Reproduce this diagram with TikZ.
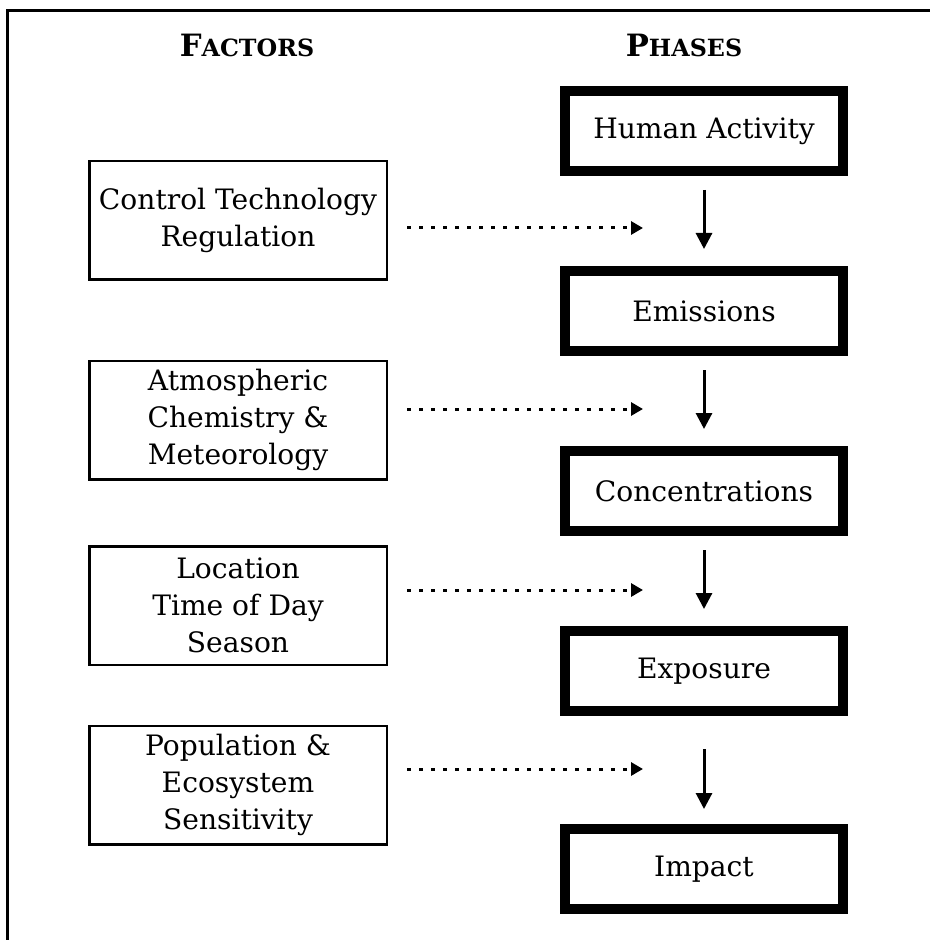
\documentclass[tikz,border=0pt]{standalone}
\usepackage{fontspec}
\setmainfont{DejaVu Serif}
\usetikzlibrary{arrows.meta,positioning}

\begin{document}
\begin{tikzpicture}[
    phase/.style={draw,line width=0.2cm,minimum width=5.56cm,minimum height=1.6cm,
                  font=\fontsize{16}{21}\selectfont,align=center,inner sep=0pt},
    factor/.style={draw,line width=0.05cm,minimum width=5.95cm,minimum height=2.37cm,
                   font=\fontsize{16}{21}\selectfont,align=center,inner sep=2pt},
    head/.style={font=\fontsize{17.5}{20}\selectfont\bfseries},
    arr/.style={-{Triangle[length=0.32cm,width=0.32cm]},line width=0.06cm},
    dotarr/.style={-{Triangle[length=0.24cm,width=0.26cm]},line width=0.06cm,
                   dash pattern=on 0.07cm off 0.17cm},
    frame/.style={line width=0.06cm},
]
\useasboundingbox (0,0) rectangle (18.6,-18.8);

% ---- Frame and headings --------------------------------------------------
\draw[frame] (0.14,-18.8) -- (0.14,-0.22) -- (18.6,-0.22);
\node[head] (hfac) at (4.94,-0.9) {F{\fontsize{13.5}{16}\selectfont ACTORS}};
\node[head] (hpha) at (13.68,-0.9) {P{\fontsize{13.5}{16}\selectfont HASES}};

% ---- Phases --------------------------------------------------------------
\node[phase] (HA) at (14.08,-2.62) {Human Activity};
\node[phase,below=1.8cm of HA] (EM) {Emissions};
\node[phase,below=1.8cm of EM] (CO) {Concentrations};
\node[phase,below=1.8cm of CO] (EX) {Exposure};
\node[phase,below=2.16cm of EX] (IM) {Impact};

% ---- Factors -------------------------------------------------------------
\node[factor] (F1) at (4.76,-4.41) {Control Technology\\ Regulation};
\node[factor] (F2) at (4.76,-8.4) {Atmospheric\\ Chemistry \&\\ Meteorology};
\node[factor] (F3) at (4.76,-12.11) {Location\\ Time of Day\\ Season};
\node[factor] (F4) at (4.76,-15.7) {Population \&\\ Ecosystem\\ Sensitivity};

% ---- Arrows --------------------------------------------------------------
\draw[arr,shorten <=0.28cm,shorten >=0.34cm] (HA) -- (EM);
\draw[arr,shorten <=0.28cm,shorten >=0.34cm] (EM) -- (CO);
\draw[arr,shorten <=0.28cm,shorten >=0.34cm] (CO) -- (EX);
\draw[arr,shorten <=0.66cm,shorten >=0.3cm] (EX) -- (IM);

\foreach \f/\dy in {F1/-0.15, F2/0.22, F3/0.31, F4/0.32}
    \draw[dotarr] ([shift={(0.38,\dy)}]\f.east) -- ++(4.72,0);

\end{tikzpicture}
\end{document}
